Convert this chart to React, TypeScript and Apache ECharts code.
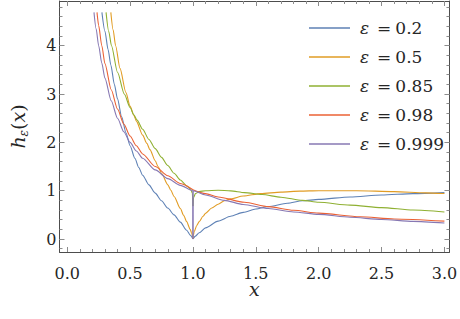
import React, { useEffect, useRef } from 'react';
import * as echarts from 'echarts';

// ---- data ----
const epsValues = ['0.2', '0.5', '0.85', '0.98', '0.999'];
const colors = ['#5E81B5', '#E19C24', '#8FB032', '#EB6235', '#8778B3'];

// eps = 0.2
const bLx = [0.276, 0.3, 0.325, 0.347, 0.375, 0.4, 0.433, 0.467, 0.5, 0.538, 0.569, 0.6, 0.65, 0.7, 0.75, 0.8, 0.85, 0.9, 0.95, 0.98, 1.0];
const bLy = [4.69, 4.3, 3.92, 3.6, 3.2, 2.9, 2.53, 2.2, 1.93, 1.67, 1.48, 1.32, 1.12, 0.95, 0.79, 0.64, 0.5, 0.35, 0.18, 0.075, 0];
const bRx = [1.0, 1.02, 1.05, 1.1, 1.2, 1.3, 1.4, 1.5, 1.6, 1.75, 1.87, 2.0, 2.25, 2.5, 2.75, 3.0];
const bRy = [0, 0.06, 0.13, 0.23, 0.37, 0.47, 0.55, 0.62, 0.67, 0.74, 0.79, 0.82, 0.87, 0.91, 0.94, 0.96];

// eps = 0.5
const oLx = [0.347, 0.365, 0.385, 0.42, 0.467, 0.5, 0.53, 0.55, 0.6, 0.633, 0.658, 0.7, 0.722, 0.75, 0.8, 0.824, 0.85, 0.9, 0.926, 0.95, 0.978, 0.99, 0.997, 1.0];
const oLy = [4.69, 4.33, 4.0, 3.53, 3.03, 2.75, 2.56, 2.44, 2.15, 1.98, 1.85, 1.62, 1.5, 1.36, 1.12, 1.01, 0.88, 0.63, 0.49, 0.36, 0.2, 0.12, 0.06, 0];
const oRx = [1.0, 1.003, 1.01, 1.03, 1.05, 1.08, 1.1, 1.15, 1.2, 1.25, 1.3, 1.4, 1.54, 1.7, 1.85, 2.0, 2.3, 2.6, 2.85, 3.0];
const oRy = [0, 0.07, 0.15, 0.28, 0.36, 0.47, 0.53, 0.64, 0.72, 0.79, 0.83, 0.89, 0.94, 0.97, 0.99, 1.0, 1.0, 0.98, 0.955, 0.94];

// eps = 0.85
const gLx = [0.309, 0.33, 0.352, 0.4, 0.454, 0.5, 0.53, 0.556, 0.6, 0.65, 0.7, 0.75, 0.8, 0.85, 0.9, 0.95, 0.98, 0.995, 1.0];
const gLy = [4.69, 4.3, 4.0, 3.45, 3.0, 2.72, 2.57, 2.46, 2.27, 2.06, 1.87, 1.69, 1.52, 1.36, 1.22, 1.1, 1.04, 0.95, 0.68];
const gRx = [1.0, 1.005, 1.02, 1.05, 1.1, 1.2, 1.3, 1.41, 1.55, 1.7, 1.87, 2.0, 2.25, 2.5, 2.75, 3.0];
const gRy = [0.68, 0.86, 0.94, 0.98, 1.0, 1.01, 0.995, 0.96, 0.92, 0.865, 0.8, 0.76, 0.7, 0.65, 0.6, 0.56];

// eps = 0.98
const rLx = [0.237, 0.25, 0.275, 0.3, 0.35, 0.4, 0.45, 0.5, 0.55, 0.6, 0.7, 0.8, 0.9, 1.0];
const rLy = [4.69, 4.42, 4.0, 3.63, 3.09, 2.69, 2.38, 2.13, 1.93, 1.76, 1.5, 1.31, 1.15, 1.02];
const rRx = [1.0, 1.1, 1.2, 1.41, 1.6, 1.8, 2.0, 2.33, 2.6, 3.0];
const rRy = [1.02, 0.94, 0.87, 0.76, 0.67, 0.595, 0.535, 0.46, 0.415, 0.37];

// eps = 0.999
const pLx = [0.213, 0.23, 0.25, 0.275, 0.3, 0.35, 0.4, 0.45, 0.5, 0.55, 0.6, 0.7, 0.8, 0.9, 0.999, 1.0];
const pLy = [4.69, 4.35, 4.0, 3.64, 3.33, 2.86, 2.5, 2.22, 2.0, 1.82, 1.67, 1.43, 1.25, 1.11, 1.0, 0];
const pRx = [1.0, 1.001, 1.1, 1.25, 1.4, 1.6, 1.8, 2.0, 2.25, 2.5, 2.75, 3.0];
const pRy = [0, 1.0, 0.91, 0.8, 0.715, 0.63, 0.56, 0.51, 0.45, 0.405, 0.365, 0.33];

const xMajorTicks = [0, 0.5, 1, 1.5, 2, 2.5, 3];
const xMinorTicks = [0, 0.1, 0.2, 0.3, 0.4, 0.5, 0.6, 0.7, 0.8, 0.9, 1.0, 1.1, 1.2, 1.3, 1.4, 1.5, 1.6, 1.7, 1.8, 1.9, 2.0, 2.1, 2.2, 2.3, 2.4, 2.5, 2.6, 2.7, 2.8, 2.9, 3.0];
const yMajorTicks = [0, 1, 2, 3, 4];
const yMinorTicks = [-0.2, 0, 0.2, 0.4, 0.6, 0.8, 1.0, 1.2, 1.4, 1.6, 1.8, 2.0, 2.2, 2.4, 2.6, 2.8, 3.0, 3.2, 3.4, 3.6, 3.8, 4.0, 4.2, 4.4, 4.6, 4.8];

const curves = [
  [bLx, bLy, bRx, bRy],
  [oLx, oLy, oRx, oRy],
  [gLx, gLy, gRx, gRy],
  [rLx, rLy, rRx, rRy],
  [pLx, pLy, pRx, pRy],
];

const FONT = 'DejaVu Serif';
const frameColor = '#4d4d4d';
const tickColor = '#8c8c8c';
const labelColor = '#262626';
const X_MIN = -0.0613, X_MAX = 3.04;
const Y_MIN = -0.269, Y_MAX = 4.925;

const zip = (xs: number[], ys: number[]) => xs.map((x, i) => [x, ys[i]]);

function xAxisCfg(position: string, ticks: number[], len: number, main: boolean) {
  return {
    type: 'value', position, min: X_MIN, max: X_MAX,
    splitLine: { show: false },
    axisLine: { show: main, onZero: false, lineStyle: { color: frameColor, width: 1 } },
    axisTick: { show: true, inside: true, length: len, customValues: ticks, lineStyle: { color: tickColor, width: 1 } },
    axisLabel: main && position === 'bottom'
      ? { show: true, customValues: xMajorTicks, formatter: (v: number) => v.toFixed(1), fontFamily: FONT, fontSize: 16, lineHeight: 14, color: labelColor, margin: 14 }
      : { show: false },
    ...(main && position === 'bottom' ? {
      name: 'x', nameLocation: 'middle', nameGap: 37, nameMoveOverlap: false,
      nameTextStyle: { fontFamily: FONT, fontStyle: 'italic', fontSize: 19, lineHeight: 12, color: labelColor, verticalAlign: 'middle' },
    } : {}),
  };
}

function yAxisCfg(position: string, ticks: number[], len: number, main: boolean) {
  return {
    type: 'value', position, min: Y_MIN, max: Y_MAX,
    splitLine: { show: false },
    axisLine: { show: main, onZero: false, lineStyle: { color: frameColor, width: 1 } },
    axisTick: { show: true, inside: true, length: len, customValues: ticks, lineStyle: { color: tickColor, width: 1 } },
    axisLabel: main && position === 'left'
      ? { show: true, customValues: yMajorTicks, formatter: (v: number) => String(Math.round(v)), fontFamily: FONT, fontSize: 16, color: labelColor, margin: 3 }
      : { show: false },
    ...(main && position === 'left' ? {
      name: '{i|h}{s|ε}{n|(}{i|x}{n|)}', nameLocation: 'middle', nameGap: 30, nameRotate: 90, nameMoveOverlap: false,
      nameTextStyle: {
        color: labelColor, fontFamily: FONT,
        rich: {
          i: { fontFamily: FONT, fontStyle: 'italic', fontSize: 19, color: labelColor, lineHeight: 24 },
          n: { fontFamily: FONT, fontSize: 19, color: labelColor, lineHeight: 24 },
          s: { fontFamily: FONT, fontStyle: 'italic', fontSize: 12, color: labelColor, verticalAlign: 'bottom', lineHeight: 13 },
        },
      },
    } : {}),
  };
}

export default function App() {
  const ref = useRef<HTMLDivElement>(null);
  useEffect(() => {
    if (!ref.current) return;
    const chart = echarts.init(ref.current, undefined, { renderer: 'svg' });
    const names = epsValues.map((e) => `ε = ${e}`);
    const series: any[] = [];
    curves.forEach((c, i) => {
      [zip(c[0], c[1]), zip(c[2], c[3])].forEach((data) => {
        series.push({
          type: 'line', name: names[i], data, symbol: 'none', showSymbol: false,
          smooth: 0.25, smoothMonotone: 'x',
          lineStyle: { color: colors[i], width: 1.1 }, itemStyle: { color: colors[i] },
          xAxisIndex: 0, yAxisIndex: 0, clip: true, z: 2 + i,
        });
      });
    });
    chart.setOption({
      animation: false,
      backgroundColor: '#ffffff',
      textStyle: { fontFamily: FONT },
      grid: { left: 48, right: 7, top: 1, bottom: 67, containLabel: false },
      xAxis: [
        xAxisCfg('bottom', xMinorTicks, 3, true),
        xAxisCfg('bottom', xMajorTicks, 5, false),
        xAxisCfg('top', xMinorTicks, 3, true),
        xAxisCfg('top', xMajorTicks, 5, false),
      ],
      yAxis: [
        yAxisCfg('left', yMinorTicks, 3, true),
        yAxisCfg('left', yMajorTicks, 5, false),
        yAxisCfg('right', yMinorTicks, 3, true),
        yAxisCfg('right', yMajorTicks, 5, false),
      ],
      legend: {
        data: names, orient: 'vertical', left: 304, top: 13,
        icon: 'rect', itemWidth: 41, itemHeight: 1.3, itemGap: 9,
        formatter: (n: string) => `{e|ε}{q|=}{v|${n.split('= ')[1]}}`,
        textStyle: {
          color: labelColor, fontFamily: FONT, fontSize: 17, lineHeight: 20,
          rich: {
            e: { fontFamily: FONT, fontStyle: 'italic', fontSize: 17, color: labelColor, padding: [0, 0, 0, 5] },
            q: { fontFamily: FONT, fontSize: 17, color: labelColor, padding: [0, 4, 0, 8] },
            v: { fontFamily: FONT, fontSize: 17, color: labelColor },
          },
        },
      },
      series,
    });
    return () => chart.dispose();
  }, []);
  return <div ref={ref} style={{ position: 'absolute', left: 0, top: 0, width: 460, height: 319 }} />;
}
